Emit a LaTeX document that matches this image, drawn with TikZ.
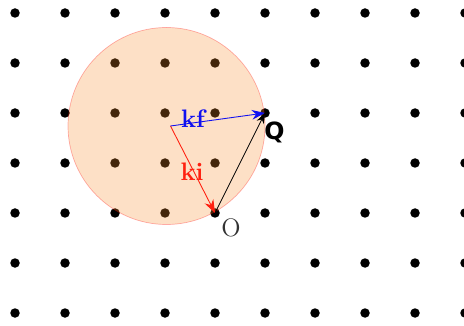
\documentclass[tikz,border=0pt]{standalone}
\usepackage{xcolor}
\usepackage{fontspec}
\usepackage{tikz}
\usetikzlibrary{arrows.meta,positioning}
\newfontfamily\labelsans{DejaVu Sans}
\definecolor{ewaldorange}{HTML}{F88D2C}
\definecolor{kfblue}{HTML}{1010F0}
\definecolor{kired}{HTML}{FF2010}
\definecolor{origray}{HTML}{333333}

\begin{document}
\begin{tikzpicture}[
  latticedot/.style={fill=black},
  vecarrow/.style={-{Stealth[length=7.5pt,width=5.5pt]},line width=0.5pt},
  veclabel/.style={font=\Large\bfseries,inner sep=0pt}
]
  \useasboundingbox (-0.3,-0.24) rectangle (8.98,6.26);

  % Reciprocal lattice
  \foreach \i in {0,...,9} {
    \foreach \j in {0,...,6} {
      \fill[latticedot] (\i,\j) circle (0.095);
    }
  }

  % Ewald sphere
  \coordinate (E) at (3.03,3.74);
  \fill[ewaldorange,fill opacity=0.27] (E) circle (1.97);
  \draw[red,opacity=0.3,line width=0.4pt] (E) circle (1.97);

  % Wave vectors
  \coordinate (C) at (3.11,3.74);
  \coordinate (O) at (4,2);
  \coordinate (Q) at (5,4);
  \draw[vecarrow,kired] (C) -- (O);
  \draw[vecarrow,kfblue] (C) -- (Q);
  \draw[vecarrow,black,line width=0.4pt,-{Stealth[length=6pt,width=4.5pt]}] (O) -- (Q);

  % Labels
  \node[veclabel,color=kfblue] (kf) at (3.56,3.88) {kf};
  \node[veclabel,color=kired] (ki) at (3.54,2.82) {ki};
  \node[font=\fontsize{13.5}{15}\labelsans\bfseries,inner sep=0pt] (Qlabel) at (5.19,3.62) {Q};
  \node[font=\Large,color=origray,inner sep=0pt] (Olabel) at (4.32,1.70) {O};
\end{tikzpicture}
\end{document}
